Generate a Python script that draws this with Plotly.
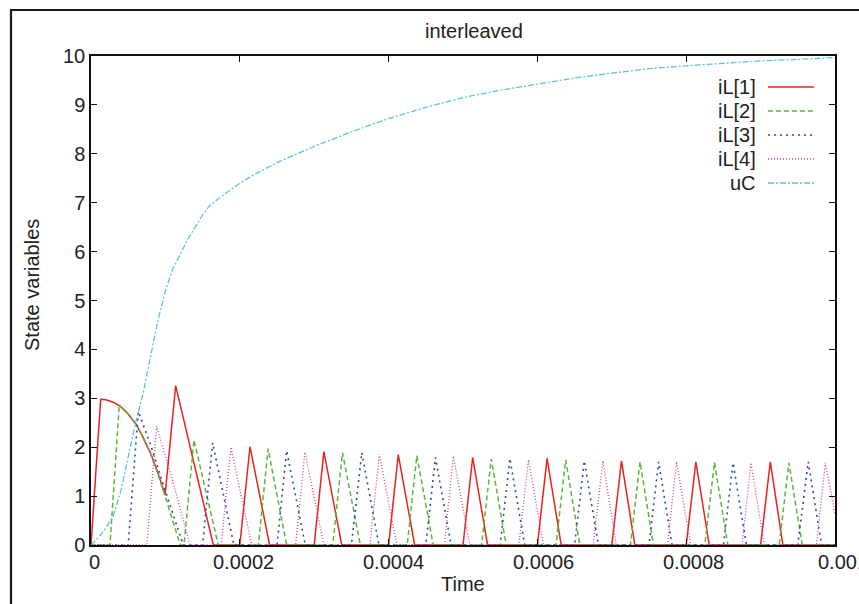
import plotly.graph_objects as go

# Simulated state variables of a 4-phase interleaved converter.
# Times are in microseconds, currents in A, capacitor voltage in V.

# iL[1]: start-up arc followed by regular pulses (start, peak time, peak, end)
IL1_HEAD = [(0, 0), (13, 2.98), (20, 2.97), (30, 2.92), (40, 2.83), (50, 2.68),
            (60, 2.48), (70, 2.20), (80, 1.88), (90, 1.48), (99.5, 1.02),
            (113.8, 3.26), (164.4, 0)]
IL1_PULSES = [(200, 213.7, 2.01, 240), (300, 313, 1.91, 337), (400, 413, 1.85, 435),
              (500, 513, 1.79, 533), (600, 613, 1.77, 632), (700, 713, 1.72, 731),
              (800, 813, 1.70, 831), (900, 913, 1.70, 930)]
IL1_TAIL = [(1000, 0)]

IL2_HEAD = [(0, 0), (25.5, 0), (38, 2.86), (50, 2.68), (60, 2.48), (70, 2.20),
            (80, 1.86), (90, 1.45), (100, 0.98), (110, 0.48), (120, 0)]
IL2_PULSES = [(125, 138.4, 2.15, 171), (225, 238, 1.97, 263), (325, 338, 1.89, 362),
              (425, 438, 1.83, 460), (525, 538, 1.76, 558), (625, 638, 1.74, 657),
              (725, 738, 1.70, 756), (825, 838, 1.69, 856), (925, 938, 1.68, 956)]
IL2_TAIL = [(1000, 0)]

IL3_HEAD = [(0, 0), (50, 0), (63.6, 2.73), (80, 2.05), (100, 1.10), (124, 0)]
IL3_PULSES = [(150, 163.5, 2.09, 192), (250, 263, 1.93, 288), (350, 364, 1.89, 387),
              (450, 463, 1.79, 484), (550, 563, 1.77, 583), (650, 663, 1.72, 682),
              (750, 763, 1.70, 781), (850, 863, 1.68, 881), (950, 964, 1.70, 982)]
IL3_TAIL = [(1000, 0)]

IL4_HEAD = [(0, 0), (75, 0), (88.2, 2.43), (110, 1.30), (133, 0)]
IL4_PULSES = [(175, 188, 2.00, 216), (275, 287.6, 1.90, 313), (375, 387.5, 1.86, 411),
              (475, 487, 1.82, 509), (575, 588, 1.74, 608), (675, 688, 1.72, 706),
              (775, 787, 1.70, 806), (875, 887, 1.68, 905)]
IL4_TAIL = [(975, 0), (987, 1.68), (1000, 0.65)]

UC_T = [0, 10, 20, 30, 40, 50, 60, 70, 80, 90, 100, 110, 120, 130, 140, 150, 160,
        170, 180, 200, 225, 250, 275, 300, 350, 400, 450, 500, 550, 600, 650, 700,
        750, 800, 850, 900, 950, 1000]
UC_V = [0, 0.15, 0.35, 0.60, 1.10, 1.80, 2.50, 3.10, 3.85, 4.60, 5.20, 5.65, 5.95,
        6.25, 6.50, 6.75, 6.95, 7.07, 7.18, 7.40, 7.62, 7.82, 7.98, 8.15, 8.45, 8.72,
        8.95, 9.15, 9.30, 9.42, 9.55, 9.65, 9.74, 9.80, 9.85, 9.90, 9.93, 9.97]

X_TICKS = [0, 0.0002, 0.0004, 0.0006, 0.0008, 0.001]
X_TICK_TEXT = ["0", "0.0002", "0.0004", "0.0006", "0.0008", "0.001"]
Y_TICKS = list(range(0, 11))

SERIES = [
    ("iL[1]", IL1_HEAD, IL1_PULSES, IL1_TAIL, "#e8231e", "solid", 1.5),
    ("iL[2]", IL2_HEAD, IL2_PULSES, IL2_TAIL, "#5fb43a", "5px,3px", 1.5),
    ("iL[3]", IL3_HEAD, IL3_PULSES, IL3_TAIL, "#2d4b9e", "2px,4px", 1.6),
    ("iL[4]", IL4_HEAD, IL4_PULSES, IL4_TAIL, "#c4449c", "1px,2px", 1.3),
]
UC_STYLE = ("uC", "#5ac6da", "6px,2px,2px,2px", 1.3)


def assemble(head, pulses, tail):
    pts = list(head)
    for start, tp, vp, end in pulses:
        pts += [(start, 0), (tp, vp), (end, 0)]
    pts += list(tail)
    return [p[0] * 1e-6 for p in pts], [p[1] for p in pts]


fig = go.Figure()
for name, head, pulses, tail, color, dash, width in SERIES:
    xs, ys = assemble(head, pulses, tail)
    fig.add_trace(go.Scatter(x=xs, y=ys, mode="lines", name=name,
                             line=dict(color=color, dash=dash, width=width),
                             showlegend=False))
fig.add_trace(go.Scatter(x=[t * 1e-6 for t in UC_T], y=UC_V, mode="lines",
                         name=UC_STYLE[0],
                         line=dict(color=UC_STYLE[1], dash=UC_STYLE[2], width=UC_STYLE[3]),
                         showlegend=False))

FONT = "Liberation Sans, Arial, Helvetica, sans-serif"
W, H = 859, 604
L, R, T, B = 91, 835, 56, 545


def px(x):
    return (x - L) / (R - L)


def py(y):
    return (B - y) / (B - T)


shapes = [
    # outer frame of the page
    dict(type="rect", xref="paper", yref="paper", x0=px(11), x1=px(880),
         y0=py(625), y1=py(10), line=dict(color="#1a1a1a", width=2.2),
         layer="below"),
]
annotations = []

# key: label on the left, sample line on the right
legend_rows = [(s[0], s[4], s[5], s[6]) for s in SERIES] + [UC_STYLE]
for i, (name, color, dash, width) in enumerate(legend_rows):
    yy = 87 + i * 24
    annotations.append(dict(xref="paper", yref="paper", x=px(758), y=py(yy),
                            xanchor="right", yanchor="middle", text=name,
                            showarrow=False, font=dict(family=FONT, size=20, color="#222")))
    shapes.append(dict(type="line", xref="paper", yref="paper", x0=px(768), x1=px(814),
                       y0=py(yy), y1=py(yy), line=dict(color=color, dash=dash, width=width)))

# x tick labels, set slightly right of their ticks
for val, txt in zip(X_TICKS, X_TICK_TEXT):
    annotations.append(dict(xref="x", yref="paper", x=val, y=0, text=txt,
                            showarrow=False, xanchor="center", yanchor="top",
                            xshift=3 + 5 * val / 0.001, yshift=-4,
                            font=dict(family=FONT, size=20, color="#222")))

annotations += [
    dict(xref="paper", yref="paper", x=px(474), y=py(31), text="interleaved",
         showarrow=False, xanchor="center", yanchor="middle",
         font=dict(family=FONT, size=20, color="#222")),
    dict(xref="paper", yref="paper", x=px(463), y=py(584), text="Time",
         showarrow=False, xanchor="center", yanchor="middle",
         font=dict(family=FONT, size=20, color="#222")),
    dict(xref="paper", yref="paper", x=px(32), y=py(285), text="State variables",
         showarrow=False, xanchor="center", yanchor="middle", textangle=-90,
         font=dict(family=FONT, size=20, color="#222")),
]

axis_common = dict(showgrid=False, zeroline=False, showline=True, linecolor="#111",
                   linewidth=1.5, mirror="ticks", ticks="inside", ticklen=6,
                   tickwidth=1, tickcolor="#111", automargin=False,
                   tickfont=dict(family=FONT, size=20, color="#222"))

fig.update_layout(
    width=W, height=H,
    margin=dict(l=L, r=W - R, t=T, b=H - B, autoexpand=False),
    paper_bgcolor="white", plot_bgcolor="white",
    showlegend=False,
    xaxis=dict(range=[0, 0.0010000001], tickvals=X_TICKS, showticklabels=False,
               **axis_common),
    yaxis=dict(range=[0, 10.0000001], tickvals=Y_TICKS, ticklabelstandoff=0,
               **axis_common),
    shapes=shapes, annotations=annotations,
)

fig.write_html("out.html")
